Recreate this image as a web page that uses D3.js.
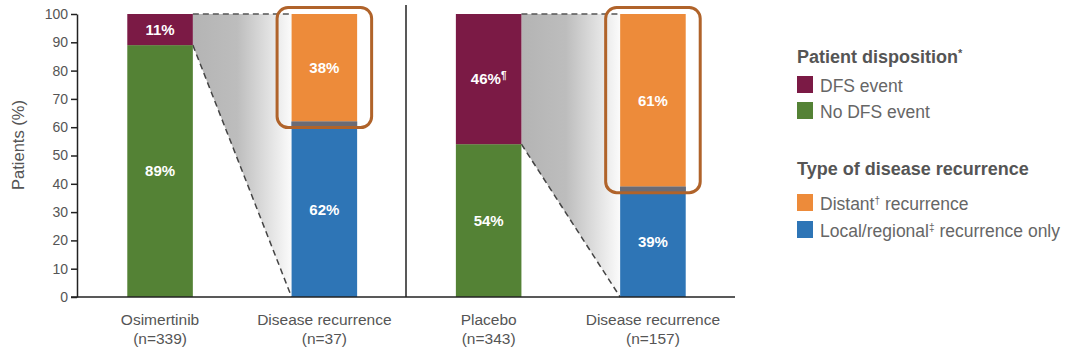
<!DOCTYPE html>
<html><head><meta charset="utf-8">
<script src="https://cdn.jsdelivr.net/npm/d3@7"></script>
<style>body{margin:0;background:#fff}svg{display:block;font-family:"Liberation Sans",Arial,sans-serif}</style>
</head><body><svg id="c" width="1080" height="355"></svg>
<script>
const categories = ["Osimertinib", "Disease recurrence", "Placebo", "Disease recurrence "];
const nLabels = ["(n=339)", "(n=37)", "(n=343)", "(n=157)"];
const lowerValues = [89, 62, 54, 39];   // No DFS event / local-regional only
const upperValues = [11, 38, 46, 61];   // DFS event / distant
const lowerLabels = ["89%", "62%", "54%", "39%"];
const upperLabels = ["11%", "38%", "46%", "61%"];
const upperSup = ["", "", "¶", ""];
const lowerColors = ["#548235", "#2e75b6", "#548235", "#2e75b6"];
const upperColors = ["#7b1a45", "#ed8b3a", "#7b1a45", "#ed8b3a"];
const yTicks = [0,10,20,30,40,50,60,70,80,90,100];

const svg = d3.select("#c");
const x = d3.scaleBand().domain(categories).range([78, 735]).paddingInner(0.601).paddingOuter(0.30);
const y = d3.scaleLinear().domain([0,100]).range([297, 14]);
const bw = x.bandwidth();

const defs = svg.append("defs");
const g = defs.append("linearGradient").attr("id","fade").attr("x1","0").attr("x2","1").attr("y1","0").attr("y2","0");
g.append("stop").attr("offset","0").attr("stop-color","#b4b4b4");
g.append("stop").attr("offset","0.45").attr("stop-color","#bdbdbd");
g.append("stop").attr("offset","1").attr("stop-color","#fbfbfb");

[[0,1],[2,3]].forEach(([a,b]) => {
  const xa = x(categories[a]) + bw, xb = x(categories[b]);
  const yb = y(lowerValues[a]);
  svg.append("path").attr("d", `M${xa},${y(100)}L${xb},${y(100)}L${xb},${y(0)}L${xa},${yb}Z`).attr("fill","url(#fade)");
  svg.append("line").attr("x1",xa).attr("y1",y(100)).attr("x2",xb).attr("y2",y(100))
    .attr("stroke","#555").attr("stroke-width",1.5).attr("stroke-dasharray","6,4");
  svg.append("line").attr("x1",xa).attr("y1",yb).attr("x2",xb).attr("y2",y(0))
    .attr("stroke","#444").attr("stroke-width",1.5).attr("stroke-dasharray","6,4");
});

categories.forEach((c,i) => {
  const x0 = x(c);
  svg.append("rect").attr("x",x0).attr("width",bw).attr("y",y(lowerValues[i])).attr("height",y(0)-y(lowerValues[i])).attr("fill",lowerColors[i]);
  svg.append("rect").attr("x",x0).attr("width",bw).attr("y",y(100)).attr("height",y(lowerValues[i])-y(100)).attr("fill",upperColors[i]);
  if (i % 2 === 1) {
    svg.append("rect").attr("x",x0).attr("width",bw).attr("y",y(lowerValues[i])).attr("height",5).attr("fill","#6b6b75");
  }
  svg.append("text").attr("x",x0+bw/2).attr("y",y(lowerValues[i]/2)).attr("dy","0.35em")
    .attr("text-anchor","middle").attr("fill","#fff").attr("font-weight","bold").attr("font-size",15).text(lowerLabels[i]);
  const t2 = svg.append("text").attr("x",x0+bw/2).attr("y",y(lowerValues[i]+upperValues[i]/2)).attr("dy","0.35em")
    .attr("text-anchor","middle").attr("fill","#fff").attr("font-weight","bold").attr("font-size",15).text(upperLabels[i]);
  if (upperSup[i]) t2.append("tspan").attr("font-size",10).attr("dy","-5").text(upperSup[i]);
  svg.append("text").attr("x",x0+bw/2).attr("y",325).attr("text-anchor","middle").attr("fill","#555").attr("font-size",15.5).text(c.trim());
  svg.append("text").attr("x",x0+bw/2).attr("y",344).attr("text-anchor","middle").attr("fill","#555").attr("font-size",15.5).text(nLabels[i]);
  if (i % 2 === 1) {
    svg.append("rect").attr("x",x0-14.5).attr("width",bw+29).attr("y",7.5).attr("height",y(lowerValues[i])+6-7.5)
      .attr("rx",11).attr("fill","none").attr("stroke","#b0632a").attr("stroke-width",3);
  }
});

const yAxis = svg.append("g").attr("transform","translate(77,0)")
  .call(d3.axisLeft(y).tickValues(yTicks).tickSize(6).tickSizeOuter(0));
yAxis.select(".domain").attr("stroke","#222").attr("stroke-width",1.5);
yAxis.selectAll(".tick line").attr("stroke","#222").attr("stroke-width",1.5);
yAxis.selectAll(".tick text").attr("fill","#555").attr("font-size",14).attr("x",-9).style("font-family","Liberation Sans, Arial");
svg.append("line").attr("x1",71).attr("x2",735).attr("y1",y(0)).attr("y2",y(0)).attr("stroke","#222").attr("stroke-width",1.5);
svg.append("line").attr("x1",406).attr("x2",406).attr("y1",5).attr("y2",y(0)).attr("stroke","#222").attr("stroke-width",1.5);

svg.append("text").attr("transform","translate(24,145) rotate(-90)").attr("text-anchor","middle")
  .attr("fill","#555").attr("font-size",16.5).text("Patients (%)");

const leg = svg.append("g");
function title(txt, sup, yy){
  const t = leg.append("text").attr("x",797).attr("y",yy).attr("fill","#555").attr("font-weight","bold").attr("font-size",18).text(txt);
  if (sup) t.append("tspan").attr("font-size",11).attr("dy","-6").text(sup);
}
function item(color, parts, yy){
  leg.append("rect").attr("x",797).attr("y",yy-16).attr("width",16).attr("height",17).attr("fill",color);
  const t = leg.append("text").attr("x",820).attr("y",yy).attr("fill","#666").attr("font-size",17.5);
  parts.forEach(p => {
    if (p.sup) t.append("tspan").attr("font-size",10).attr("dy","-6").text(p.t);
    else t.append("tspan").attr("dy", p.after ? "6" : null).text(p.t);
  });
}
title("Patient disposition","*",63);
item("#7b1a45",[{t:"DFS event"}],92);
item("#548235",[{t:"No DFS event"}],118);
title("Type of disease recurrence","",175);
item("#ed8b3a",[{t:"Distant"},{t:"†",sup:true},{t:" recurrence",after:true}],210);
item("#2e75b6",[{t:"Local/regional"},{t:"‡",sup:true},{t:" recurrence only",after:true}],237);
</script></body></html>
